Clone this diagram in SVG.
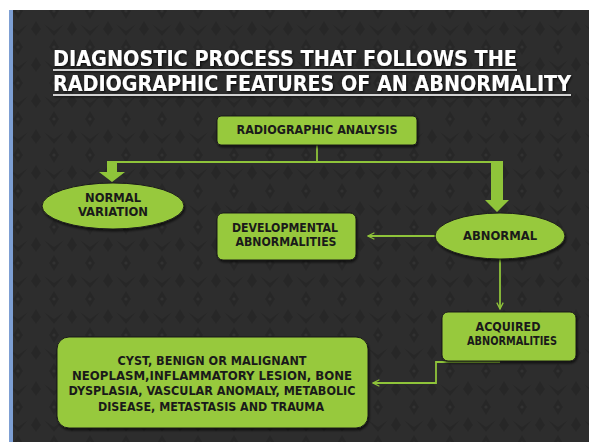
<svg xmlns="http://www.w3.org/2000/svg" width="589" height="442" viewBox="0 0 589 442">
<defs>
<pattern id="damask" width="36" height="36" patternUnits="userSpaceOnUse">
<rect width="36" height="36" fill="#2d2d2d"/>
<path d="M18 3 L23 11 L18 19 L13 11 Z M0 21 L5 29 L0 36 M36 21 L31 29 L36 36 M8 24 L18 31 L28 24 L18 36 Z" fill="#272727"/>
<circle cx="18" cy="11" r="1.6" fill="#323232"/>
</pattern>
<marker id="vhead" viewBox="0 0 10 10" refX="9" refY="5" markerWidth="8" markerHeight="8" markerUnits="userSpaceOnUse" orient="auto">
<path d="M1 1 L9 5 L1 9" fill="none" stroke="#8fc43a" stroke-width="1.6"/>
</marker>
<filter id="sh" x="-10%" y="-10%" width="120%" height="130%">
<feDropShadow dx="1" dy="2" stdDeviation="1.2" flood-color="#000" flood-opacity="0.6"/>
</filter>
<filter id="tsh" x="-5%" y="-20%" width="110%" height="150%">
<feDropShadow dx="1" dy="1" stdDeviation="0.8" flood-color="#000" flood-opacity="0.8"/>
</filter>
</defs>
<style>
.node{fill:#97c93d;stroke:#1c1c1c;stroke-width:1;filter:url(#sh)}
.lbl{font-family:"Liberation Sans Narrow","DejaVu Sans Condensed","Liberation Sans",sans-serif;font-weight:bold;font-size:12px;fill:#1a1a1a;text-anchor:middle}
.big{font-size:13px}
.title{font-family:"Liberation Sans Narrow","DejaVu Sans Condensed","Liberation Sans",sans-serif;font-size:22px;font-weight:bold;fill:#ffffff}
.line{fill:none;stroke:#8fc43a;stroke-width:1.8}
.block{fill:#8fc43a}
</style>
<rect width="589" height="442" fill="#ffffff"/>
<rect x="13" y="10" width="576" height="432" fill="url(#damask)"/>
<rect x="9" y="10" width="4" height="432" fill="#7d9fd3"/>

<g id="title" filter="url(#tsh)">
<text class="title" x="53" y="66" textLength="464" lengthAdjust="spacingAndGlyphs">DIAGNOSTIC PROCESS THAT FOLLOWS THE</text>
<text class="title" x="53" y="91" textLength="518" lengthAdjust="spacingAndGlyphs">RADIOGRAPHIC FEATURES OF AN ABNORMALITY</text>
<line x1="53" y1="70" x2="517" y2="70" stroke="#ffffff" stroke-width="1.5"/>
<line x1="53" y1="95" x2="571" y2="95" stroke="#ffffff" stroke-width="1.5"/>
</g>

<g id="connectors">
<path class="line" d="M317 145 V162"/>
<path class="line" d="M116 162 H503"/>
<polygon class="block" points="107,161 117,161 117,172 125,172 112,182 99,172 107,172"/>
<polygon class="block" points="491,161 503,161 503,200 509,200 497,212 485,200 491,200"/>
<path class="line" d="M435 236 H368" marker-end="url(#vhead)"/>
<path class="line" d="M500 259 V309" marker-end="url(#vhead)"/>
<path class="line" d="M500 362 H436 V383 H373" marker-end="url(#vhead)"/>
</g>

<g id="radiographic-analysis">
<rect class="node" x="217" y="116" width="200" height="29" rx="4"/>
<text class="lbl" x="317" y="134" textLength="161" lengthAdjust="spacingAndGlyphs">RADIOGRAPHIC ANALYSIS</text>
</g>

<g id="normal-variation">
<ellipse class="node" cx="113" cy="206" rx="71" ry="23"/>
<text class="lbl" x="113" y="202" textLength="56" lengthAdjust="spacingAndGlyphs">NORMAL</text>
<text class="lbl" x="113" y="216" textLength="70" lengthAdjust="spacingAndGlyphs">VARIATION</text>
</g>

<g id="developmental-abnormalities">
<rect class="node" x="217" y="213" width="139" height="47" rx="6"/>
<text class="lbl" x="285" y="232" textLength="106" lengthAdjust="spacingAndGlyphs">DEVELOPMENTAL</text>
<text class="lbl" x="286" y="246" textLength="101" lengthAdjust="spacingAndGlyphs">ABNORMALITIES</text>
</g>

<g id="abnormal">
<ellipse class="node" cx="500" cy="236" rx="65" ry="23"/>
<text class="lbl" x="500" y="240" textLength="74" lengthAdjust="spacingAndGlyphs">ABNORMAL</text>
</g>

<g id="acquired-abnormalities">
<rect class="node" x="442" y="312" width="134" height="49" rx="6"/>
<text class="lbl" x="508" y="331" textLength="65" lengthAdjust="spacingAndGlyphs">ACQUIRED</text>
<text class="lbl" x="512" y="345" textLength="90" lengthAdjust="spacingAndGlyphs">ABNORMALITIES</text>
</g>

<g id="acquired-list">
<rect class="node" x="57" y="337" width="311" height="91" rx="12"/>
<text class="lbl big" x="212" y="365" textLength="189" lengthAdjust="spacingAndGlyphs">CYST, BENIGN OR MALIGNANT</text>
<text class="lbl big" x="212" y="380" textLength="280" lengthAdjust="spacingAndGlyphs">NEOPLASM,INFLAMMATORY LESION, BONE</text>
<text class="lbl big" x="212" y="395" textLength="287" lengthAdjust="spacingAndGlyphs">DYSPLASIA, VASCULAR ANOMALY, METABOLIC</text>
<text class="lbl big" x="211" y="411" textLength="226" lengthAdjust="spacingAndGlyphs">DISEASE, METASTASIS AND TRAUMA</text>
</g>
</svg>
